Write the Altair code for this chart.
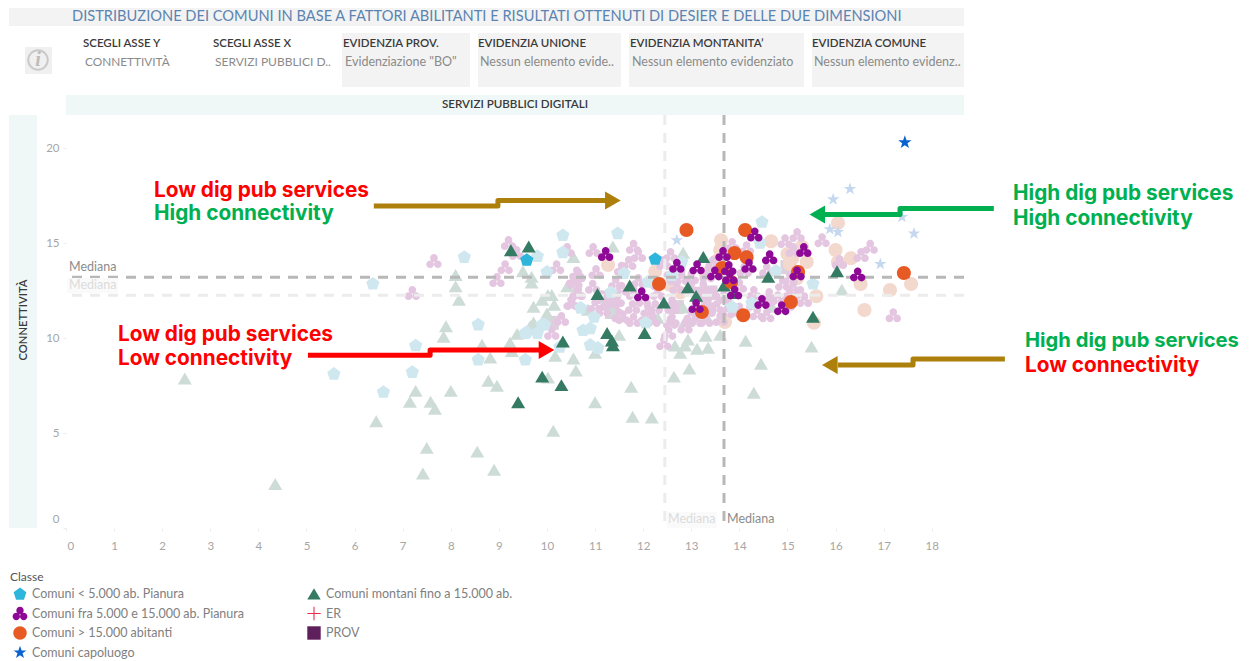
import altair as alt
import pandas as pd

FONT = "Lato"
NOTE_FONT = "Inter"

classes = ["Comuni < 5.000 ab. Pianura", "Comuni fra 5.000 e 15.000 ab. Pianura",
           "Comuni > 15.000 abitanti", "Comuni capoluogo",
           "Comuni montani fino a 15.000 ab.", "ER", "PROV"]
colors = ["#2db5dc", "#8e0a96", "#e85a24", "#0a62cf", "#357a62", "#e8304a", "#5f1e5c"]

PENT = "M0,-1 L0.95,-0.31 L0.59,0.81 L-0.59,0.81 L-0.95,-0.31 Z"
TREF = ("M-0.55,-0.45 A0.55,0.55 0 1,1 0.55,-0.45 A0.55,0.55 0 1,1 -0.55,-0.45 Z "
        "M-1.1,0.45 A0.55,0.55 0 1,1 0,0.45 A0.55,0.55 0 1,1 -1.1,0.45 Z "
        "M0,0.45 A0.55,0.55 0 1,1 1.1,0.45 A0.55,0.55 0 1,1 0,0.45 Z")
CIRC = "M-1,0 A1,1 0 1,1 1,0 A1,1 0 1,1 -1,0 Z"
STAR = "M0,-1 L0.24,-0.31 L0.95,-0.31 L0.38,0.12 L0.59,0.81 L0,0.4 L-0.59,0.81 L-0.38,0.12 L-0.95,-0.31 L-0.24,-0.31 Z"
TRI = "M0,-0.9 L1,0.8 L-1,0.8 Z"
PLUS = "M-0.08,-1 L0.08,-1 L0.08,-0.08 L1,-0.08 L1,0.08 L0.08,0.08 L0.08,1 L-0.08,1 L-0.08,0.08 L-1,0.08 L-1,-0.08 L-0.08,-0.08 Z"
SQ = "M-1,-1 L1,-1 L1,1 L-1,1 Z"
shapes = [PENT, TREF, CIRC, STAR, TRI, PLUS, SQ]

# highlighted (provincia "BO")
hi_tri = [(9.25,14.6),(9.62,14.8),(11.05,12.3),(11.72,12.75),(12.43,11.85),(12.93,12.65),(13.1,12.2),
          (13.25,14.25),(13.68,12.75),(14.6,13.2),(16.03,13.5),(15.53,11.1),(13.9,12.35),(12.03,10.25),
          (10.33,9.8),(9.9,7.95),(10.3,7.5),(9.4,6.6),(11.25,10.25),(11.35,9.85),(11.37,9.6)]
hi_tre = [(11.22,14.42),(11.97,12.3),(12.7,13.8),(13.12,13.72),(13.1,11.68),(13.49,13.4),(13.66,14.42),
          (13.78,13.68),(13.8,13.2),(13.9,12.4),(14.2,13.8),(14.32,15.45),(14.63,14.25),(14.47,11.9),
          (14.88,11.57),(15.2,13.4),(15.34,14.63),(16.46,13.35)]
hi_cir = [(12.9,15.68),(12.33,12.85),(13.22,11.37),(13.64,13.68),(13.83,12.95),(13.9,14.47),(14.15,14.25),
          (14.12,15.68),(14.08,11.2),(15.07,11.9),(15.22,13.47),(17.42,13.42)]
hi_pen = [(9.58,14.1),(12.25,14.15)]
hi_sta = [(17.44,20.3)]

# faded (all other municipalities)
lo_sta = [(16.3,17.85),(15.95,17.3),(17.38,16.37),(15.88,15.73),(16.05,15.58),(17.63,15.5),(16.93,13.9),(12.7,15.15)]
lo_cir = [(11.27,13.85),(13.62,15.15),(14.66,15.1),(16.05,16.05),(16.0,14.63),(16.32,14.2),(15.0,14.42),(15.05,13.9),
          (15.4,14.0),(15.3,14.8),(16.05,14.0),(16.52,12.85),(17.13,12.53),(17.57,12.85),(16.6,11.47),(15.6,12.2),
          (15.55,10.8),(13.7,10.85),(15.2,13.15),(13.6,14.63),(13.55,14.1),(12.25,13.5),(12.55,12.8),(11.35,12.1),
          (12.77,12.4),(13.3,13.4),(15.1,14.2)]
lo_pen = [(6.38,12.85),(5.57,8.1),(6.6,7.15),(7.2,8.2),(7.27,9.6),(8.57,10.7),(8.28,14.25),(8.57,8.85),(9.55,8.85),
          (10.33,15.4),(10.33,14.5),(9.8,14.3),(10.0,13.47),(11.47,15.5),(11.6,13.4),(11.33,12.4),(10.7,11.58),
          (10.98,11.1),(9.58,10.3),(9.9,10.7),(9.8,10.25),(10.75,10.4),(10.9,10.5),(10.9,9.63),(11.06,9.47),
          (12.05,10.8),(13.85,11.63),(14.26,11.83),(14.76,13.53),(15.53,12.85),(14.47,16.1),(14.43,15.0),
          (12.1,12.95),(12.6,13.3),(12.8,14.0),(13.87,12.95),(10.27,9.53),(9.55,10.25),(9.95,10.7)]
lo_tri = [(2.47,7.85),(4.35,2.3),(6.45,5.6),(7.15,6.63),(7.27,7.2),(7.5,4.2),(7.42,2.85),(7.58,6.63),(7.67,6.26),
          (8.0,7.2),(8.1,13.3),(8.1,12.7),(8.17,12.0),(7.9,10.6),(7.85,10.05),(8.55,4.0),(8.9,3.05),(10.13,5.1),
          (8.78,7.73),(8.96,7.47),(10.02,7.9),(8.65,9.63),(9.23,9.73),(9.27,9.3),(8.82,8.95),(10.17,9.05),
          (10.55,8.9),(10.6,8.27),(11.0,6.6),(9.38,10.2),(11.5,10.15),(11.0,9.2),(12.93,9.9),(12.66,9.58),
          (12.77,9.2),(13.12,9.42),(13.35,9.47),(13.3,10.1),(13.6,10.15),(12.87,9.58),(12.96,8.37),(12.64,7.95),
          (11.75,7.42),(11.78,5.84),(12.18,5.8),(14.13,9.84),(14.45,8.63),(14.3,7.1),(15.5,9.53),(9.5,13.5),
          (9.68,13.2),(9.68,12.9),(10.55,14.25),(10.42,12.7),(10.02,12.25),(10.1,12.25),(9.9,12.0),(10.15,11.73),
          (9.72,11.63),(10.0,11.27),(9.72,10.8),(9.65,10.6),(11.37,14.8),(12.83,14.47),(10.85,11.47),(11.17,12.1),
          (11.35,11.37),(12.3,11.05),(12.83,11.58),(12.87,10.85),(13.33,11.05),(14.68,11.63),(16.13,12.53)]
lo_sqr = [(12.7,11.63),(10.1,10.8),(13.35,12.37),(15.0,13.73),(11.35,11.37),(13.4,12.4)]
lo_tre = [(7.65,14.05),(7.2,12.37),(9.2,15.0),(9.37,14.47),(9.13,13.73),(8.96,13.05),(10.2,13.73),(10.42,14.63),
          (10.62,13.4),(10.55,13.05),(10.52,11.85),(10.62,12.37),(10.65,13.3),(10.58,12.95),(11.02,13.47),
          (10.96,14.63),(10.65,12.37),(10.5,11.85),(10.1,10.27),(11.8,14.8),(11.9,14.37),(11.7,13.95),
          (11.43,12.9),(11.46,12.0),(11.17,11.47),(11.58,11.1),(11.8,10.95),(12.57,14.37),(12.43,13.95),
          (12.7,12.68),(13.25,12.68),(12.6,11.85),(12.87,10.6),(12.57,10.85),(12.53,10.27),(12.43,9.73),
          (13.0,12.68),(13.45,12.37),(13.53,11.63),(13.35,11.47),(13.18,12.15),(13.85,14.9),(14.15,14.73),
          (14.3,12.37),(14.37,11.3),(14.62,12.27),(14.95,15.1),(15.2,15.42),(15.12,14.63),(15.72,15.15),
          (16.08,14.0),(16.53,14.37),(16.72,14.8),(17.2,11.2),(15.12,12.68),(15.05,13.15),(15.27,12.37),
          (14.57,12.0),(14.8,12.1),(15.05,12.37),(14.57,11.2),(13.68,12.15),(13.35,11.85),(13.0,13.2),
          (12.8,13.15),(12.5,13.15),(11.8,12.37),(11.78,11.63),(11.37,11.9),(11.15,12.15),(12.25,11.63),
          (12.3,12.37),(12.1,11.47),(12.72,13.68),(13.45,13.95),(13.33,13.3),(14.1,13.58),(14.57,13.58),
          (12.05,11.1),(12.6,10.95),(12.6,11.63),(13.0,11.2),(13.6,11.0),(13.1,10.95),(12.3,12.9),(11.9,13.0),
          (11.55,12.6),(10.95,12.7),(11.0,11.7),(11.5,11.2),(12.0,12.0),(13.3,10.95),(14.0,12.75),(14.3,11.8),
          (14.9,12.85),(15.0,11.8),(15.35,12.0),(13.75,11.4),(14.0,11.5),(12.2,10.95),(11.55,13.65),(10.3,11.0)]

PX = lambda v: v - 66
PY = lambda v: v - 115
TITLE_C, HEAD_C, BODY_C = "#5b84b1", "#3a3a3a", "#8a8a8a"


def pts(rows):
    return pd.DataFrame(rows, columns=["x", "y"])


X = alt.X("x:Q", scale=alt.Scale(domain=[0, 18.67], nice=False, zero=False),
          axis=alt.Axis(values=list(range(19)), title=None, grid=False, domain=False, format="d",
                        tickColor="#ececec", tickSize=3, labelColor="#a6a6a6", labelFontSize=11.5,
                        labelFont=FONT, labelPadding=9, labelFlush=True, labelFlushOffset=-1))
Y = alt.Y("y:Q", scale=alt.Scale(domain=[0, 21.74], nice=False, zero=False),
          axis=alt.Axis(values=[0, 5, 10, 15, 20], title=None, grid=False, domain=False, format="d",
                        tickColor="#ececec", tickSize=3, labelColor="#a6a6a6", labelFontSize=11.5,
                        labelFont=FONT, labelPadding=4, labelFlush=True, labelFlushOffset=-4))


def rect(x0, y0, x1, y1, fill, **kw):
    return alt.Chart(pd.DataFrame({"k": [0]})).mark_rect(color=fill, **kw).encode(
        x=alt.value(PX(x0)), x2=alt.value(PX(x1)), y=alt.value(PY(y0)), y2=alt.value(PY(y1)))


def txt(s, x, y, color, size=12.5, weight="normal", align="left", font=FONT, **kw):
    return alt.Chart(pd.DataFrame({"k": [0]})).mark_text(
        text=s, color=color, fontSize=size, fontWeight=weight, align=align, baseline="middle",
        font=font, **kw).encode(x=alt.value(PX(x)), y=alt.value(PY(y)))


def head(s, x):
    return txt(s, x, 44, HEAD_C, size=11.5, weight=600)


ring = alt.Chart(pd.DataFrame({"k": [0]})).mark_point(
    shape="circle", filled=False, color="#c9c9c9", size=380, strokeWidth=2, opacity=1
).encode(x=alt.value(PX(38)), y=alt.value(PY(60)))

chrome = [
    rect(9, 4, 964, 26, "#f3f3f3"),
    rect(25, 47, 52, 74, "#f0f0f0"),
    ring,
    rect(342, 33, 470, 87, "#f3f3f3"),
    rect(478, 33, 621, 87, "#f3f3f3"),
    rect(629, 33, 804, 87, "#f3f3f3"),
    rect(812, 33, 964, 87, "#f3f3f3"),
    rect(66, 95, 964, 115, "#eff8f7"),
    rect(9, 115, 37, 528, "#eff8f7"),
    txt("DISTRIBUZIONE DEI COMUNI IN BASE A FATTORI ABILITANTI E RISULTATI OTTENUTI DI DESIER E DELLE DUE DIMENSIONI",
        72, 17, TITLE_C, size=14.65, limit=900),
    txt("i", 38, 60, "#bcbcbc", size=20, weight="bold", align="center", font="Liberation Serif", fontStyle="italic"),
    head("SCEGLI ASSE Y", 83),
    txt("CONNETTIVITÀ", 85, 62, BODY_C, size=11.8),
    head("SCEGLI ASSE X", 213),
    txt("SERVIZI PUBBLICI D..", 215, 62, BODY_C, size=12),
    head("EVIDENZIA PROV.", 343),
    txt('Evidenziazione "BO"', 345, 62, BODY_C),
    head("EVIDENZIA UNIONE", 478),
    txt("Nessun elemento evide..", 480, 62, BODY_C),
    head("EVIDENZIA MONTANITA’", 630),
    txt("Nessun elemento evidenziato", 632, 62, BODY_C),
    head("EVIDENZIA COMUNE", 812),
    txt("Nessun elemento evidenz..", 814, 62, BODY_C),
    txt("SERVIZI PUBBLICI DIGITALI", 515, 105, HEAD_C, weight=600, align="center", size=11.6),
    txt("CONNETTIVITÀ", 24, 320, HEAD_C, weight=600, align="center", size=11.2, angle=270),
    txt("Classe", 10, 577, "#555555", size=12),
]

faded = [
    (lo_sqr, SQ, "#dcd0dc", 196),
    (lo_tri, TRI, "#cddcd7", 196),
    (lo_cir, CIRC, "#f3d8cd", 196),
    (lo_tre, TREF, "#e4c6e1", 196),
    (lo_pen, PENT, "#cfe7ef", 196),
    (lo_sta, STAR, "#c5d8ef", 170),
]
faded_layers = [
    alt.Chart(pts(r)).mark_point(shape=s, filled=True, color=c, size=z, opacity=1).encode(x=X, y=Y)
    for r, s, c, z in faded
]

medians = [
    alt.Chart(pd.DataFrame({"x": [12.45]})).mark_rule(color="#ececec", strokeWidth=3, strokeDash=[10, 8]).encode(x="x:Q"),
    alt.Chart(pd.DataFrame({"y": [12.25]})).mark_rule(color="#ececec", strokeWidth=3, strokeDash=[10, 8]).encode(y="y:Q"),
    alt.Chart(pd.DataFrame({"x": [13.68]})).mark_rule(color="#b8b8b8", strokeWidth=3, strokeDash=[10, 8]).encode(x="x:Q"),
    alt.Chart(pd.DataFrame({"y": [13.2]})).mark_rule(color="#b8b8b8", strokeWidth=3, strokeDash=[10, 8]).encode(y="y:Q"),
    rect(667, 512, 717, 528, "#fafafa"),
    rect(67, 278, 118, 293, "#fafafa"),
    txt("Mediana", 69, 267, "#8c8c8c"),
    txt("Mediana", 69, 285, "#dcdcdc"),
    txt("Mediana", 727, 519, "#8c8c8c"),
    txt("Mediana", 668, 519, "#dcdcdc"),
]

hi_rows = []
for name, rows in [(classes[4], hi_tri), (classes[0], hi_pen), (classes[2], hi_cir), (classes[1], hi_tre), (classes[3], hi_sta)]:
    for i, (a, b) in enumerate(rows):
        hi_rows.append({"x": a, "y": b, "Classe": name, "o": len(hi_rows)})
hi_df = pd.DataFrame(hi_rows)

legend_cfg = dict(orient="none", legendX=-53, legendY=472, columns=2, columnPadding=63, rowPadding=5.5,
                  title=None, labelFont=FONT, labelFontSize=12.5, labelColor="#808080", symbolSize=180,
                  labelOffset=5, symbolOpacity=1, symbolStrokeWidth=0, direction="vertical", labelLimit=260)

dark = alt.Chart(hi_df).mark_point(filled=True, size=196, opacity=1).encode(
    x=X, y=Y,
    color=alt.Color("Classe:N", scale=alt.Scale(domain=classes, range=colors), legend=alt.Legend(**legend_cfg)),
    shape=alt.Shape("Classe:N", scale=alt.Scale(domain=classes, range=shapes), legend=alt.Legend(**legend_cfg)),
    order="o:Q",
)


def arrow(xs, ys, hx, hy, shape, color):
    line = alt.Chart(pd.DataFrame({"x": xs, "y": ys, "i": list(range(len(xs)))})).mark_line(
        color=color, strokeWidth=5, strokeJoin="round", clip=False).encode(x=X, y=Y, order="i:Q")
    tip = alt.Chart(pd.DataFrame({"x": [hx], "y": [hy]})).mark_point(
        shape=shape, filled=True, color=color, size=324, opacity=1).encode(x=X, y=Y)
    return [line, tip]


BROWN, GREEN, RED = "#ad7f0b", "#00b050", "#ff0000"
arrows = (
    arrow([6.40, 8.98, 8.98, 11.27], [16.95, 16.95, 17.24, 17.24], 11.37, 17.24, "triangle-right", BROWN)
    + arrow([19.29, 17.34, 17.34, 15.78], [16.82, 16.82, 16.5, 16.5], 15.62, 16.5, "triangle-left", GREEN)
    + arrow([5.03, 7.57, 7.57, 9.85], [9.1, 9.1, 9.37, 9.37], 9.99, 9.37, "triangle-right", RED)
    + arrow([19.52, 17.61, 17.61, 16.05], [8.89, 8.89, 8.58, 8.58], 15.88, 8.58, "triangle-left", BROWN)
)


def note(s, x, y, c, size=20.8):
    return txt(s, x, y, c, size=size, weight="bold", font=NOTE_FONT)


notes = [
    note("Low dig pub services", 154, 191, RED),
    note("High connectivity", 154, 214, GREEN),
    note("Low dig pub services", 118, 335, RED),
    note("Low connectivity", 118, 359, RED),
    note("High dig pub services", 1013, 194, GREEN),
    note("High connectivity", 1013, 219, GREEN),
    note("High dig pub services", 1025, 341, GREEN, size=20.2),
    note("Low connectivity", 1025, 366, RED),
]

chart = alt.layer(*chrome, *faded_layers, *medians, dark, *arrows, *notes).properties(
    width=898, height=413,
    padding={"left": 58, "top": 107, "right": 277, "bottom": 132},
    autosize=alt.AutoSizeParams(type="none"),
).configure_view(stroke=None)

chart.save("out.html", embed_options={"renderer": "svg", "actions": False})
